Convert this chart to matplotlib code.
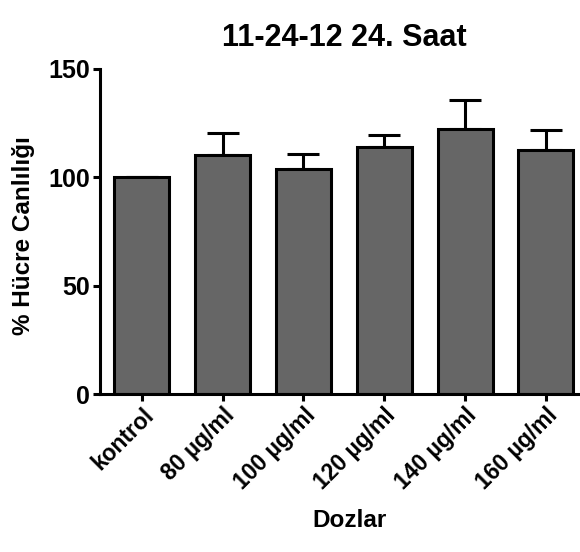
import matplotlib
matplotlib.use("Agg")
import matplotlib.pyplot as plt
import numpy as np

categories = ["kontrol", "80 µg/ml", "100 µg/ml", "120 µg/ml", "140 µg/ml", "160 µg/ml"]
means = [100.0, 110.3, 103.8, 113.8, 122.3, 112.6]
sem = [0.0, 10.2, 7.0, 5.6, 13.4, 9.2]
yticks = [0, 50, 100, 150]

plt.rcParams['font.family'] = ['Liberation Sans', 'DejaVu Sans']
plt.rcParams['font.weight'] = 'bold'

fig = plt.figure(figsize=(5.8, 5.52), dpi=100)
ax = fig.add_axes([0.172, 0.286, 0.825, 0.589])

x = np.arange(len(categories))
lower = [0] * len(sem)
ax.bar(x, means, width=0.68, color='#666666', edgecolor='black', linewidth=2.2, zorder=2)
ax.errorbar(x, means, yerr=[lower, sem], fmt='none', ecolor='black', elinewidth=2.2,
            capsize=11.5, capthick=2.2, zorder=1)

ax.set_xlim(-0.52, 5.4)
ax.set_ylim(0, 150)
ax.set_yticks(yticks)
ax.set_xticks(x)
ax.set_xticklabels(categories, rotation=45, ha='right', rotation_mode='anchor', fontsize=16.5, fontweight='bold')
for lbl in ax.get_yticklabels():
    lbl.set_fontsize(18)
    lbl.set_fontweight('bold')

for s in ['top', 'right']:
    ax.spines[s].set_visible(False)
for s in ['left', 'bottom']:
    ax.spines[s].set_linewidth(2.2)
ax.tick_params(axis='both', direction='out', length=5, width=2.2, pad=2)

ax.set_ylabel("% Hücre Canlılığı", fontsize=17.5, fontweight='bold')
ax.yaxis.set_label_coords(35 / 580, 1 - 236 / 552, transform=fig.transFigure)
ax.set_xlabel("Dozlar", fontsize=17.5, fontweight='bold')
ax.xaxis.set_label_coords(349 / 580, 1 - 509 / 552, transform=fig.transFigure)
fig.text(344 / 580, 1 - 38 / 552, "11-24-12 24. Saat", fontsize=22, fontweight='bold',
         ha='center', va='center')

fig.savefig("out.png", dpi=100)
